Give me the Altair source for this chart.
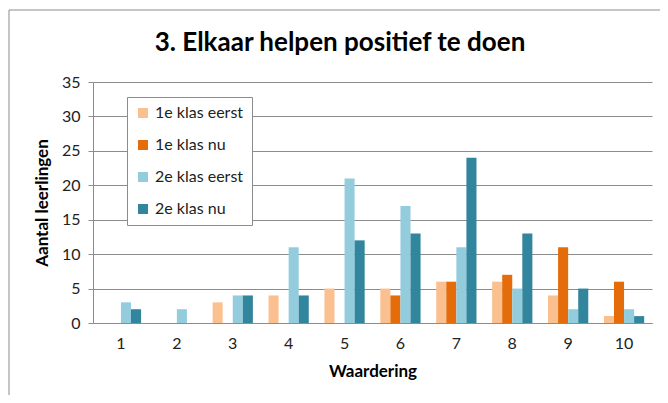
import altair as alt
import pandas as pd

categories = ["1", "2", "3", "4", "5", "6", "7", "8", "9", "10"]
series = ["1e klas eerst", "1e klas nu", "2e klas eerst", "2e klas nu"]
klas1_eerst = [0, 0, 3, 4, 5, 5, 6, 6, 4, 1]
klas1_nu = [0, 0, 0, 0, 0, 4, 6, 7, 11, 6]
klas2_eerst = [3, 2, 4, 11, 21, 17, 11, 5, 2, 2]
klas2_nu = [2, 0, 4, 4, 12, 13, 24, 13, 5, 1]
colors = ["#FAC090", "#E46C0A", "#93CDDD", "#31859C"]
y_ticks = [0, 5, 10, 15, 20, 25, 30, 35]
chart_title = "3. Elkaar helpen positief te doen"

rows = []
for s, vals in zip(series, [klas1_eerst, klas1_nu, klas2_eerst, klas2_nu]):
    for c, v in zip(categories, vals):
        rows.append({"Waardering": c, "serie": s, "Aantal": v})
df = pd.DataFrame(rows)

W, H = 559, 241
FONT = "Lato"
GRID = "#8c8c8c"

bars = alt.Chart(df).mark_bar().encode(
    x=alt.X(
        "Waardering:N",
        sort=categories,
        scale=alt.Scale(paddingInner=0.28, paddingOuter=0.14),
        axis=alt.Axis(
            title="Waardering",
            labelAngle=0,
            ticks=False,
            labelPadding=12,
            titlePadding=12,
            domainColor=GRID,
            labelFontSize=16,
            labelColor="#222222",
            titleFontSize=17,
            titleFontWeight="bold",
            titleColor="#000000",
        ),
    ),
    xOffset=alt.XOffset("serie:N", sort=series, scale=alt.Scale(domain=series)),
    y=alt.Y(
        "Aantal:Q",
        scale=alt.Scale(domain=[0, 35], nice=False),
        axis=alt.Axis(
            values=y_ticks,
            title="Aantal leerlingen",
            tickSize=5,
            tickColor=GRID,
            domainColor=GRID,
            gridColor=GRID,
            labelPadding=8,
            labelFontSize=16,
            labelColor="#222222",
            titleFontSize=17,
            titleFontWeight="bold",
            titleColor="#000000",
            titlePadding=10,
        ),
    ),
    color=alt.Color(
        "serie:N",
        scale=alt.Scale(domain=series, range=colors),
        legend=alt.Legend(
            title=None,
            orient="none",
            legendX=34,
            legendY=15,
            fillColor="#ffffff",
            strokeColor="#8c8c8c",
            padding=8,
            rowPadding=16,
            symbolType="square",
            symbolSize=100,
            symbolStrokeWidth=0,
            labelFontSize=16,
            labelColor="#222222",
            labelOffset=4,
        ),
    ),
)

frame = pd.DataFrame({"k": [0]})
left_line = alt.Chart(frame).mark_rule(color=GRID, strokeWidth=1).encode(
    x=alt.value(-84), y=alt.value(-72), y2=alt.value(H + 80)
)
top_line = alt.Chart(frame).mark_rule(color=GRID, strokeWidth=1).encode(
    x=alt.value(-84), x2=alt.value(W + 20), y=alt.value(-72)
)
title_text = alt.Chart(frame).mark_text(
    text=chart_title,
    fontSize=26,
    fontWeight="bold",
    font=FONT,
    color="#000000",
    align="center",
    baseline="middle",
).encode(x=alt.value(247), y=alt.value(-39))

chart = (
    alt.layer(left_line, top_line, title_text, bars)
    .properties(
        width=W,
        height=H,
        autosize=alt.AutoSizeParams(type="none"),
        padding={"left": 85, "top": 74, "right": 8, "bottom": 72},
    )
    .configure(font=FONT, background="#ffffff")
    .configure_view(stroke=None)
)

chart.save("out.html", embed_options={"renderer": "svg", "actions": False})
